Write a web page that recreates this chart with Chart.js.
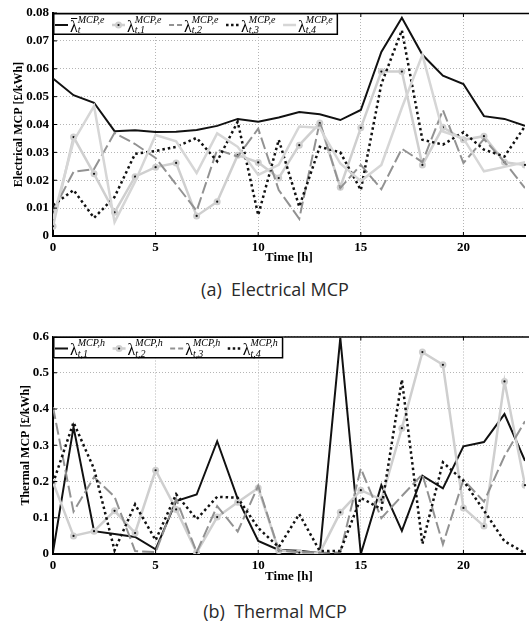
<!DOCTYPE html>
<html>
<head>
<meta charset="utf-8">
<script src="https://cdn.jsdelivr.net/npm/chart.js@4.4.0/dist/chart.umd.min.js"></script>
<style>
  body { margin: 0; background: #fff; width: 529px; height: 625px; position: relative; overflow: hidden; }
  canvas { position: absolute; left: 0; }
  #elec { top: 0; }
  #therm { top: 324px; }
  .cap { position: absolute; left: 0; width: 550px; text-align: center; font-family: "Open Sans"; font-size: 18px; color: #2a2a2a; white-space: pre; }
</style>
</head>
<body>
<canvas id="elec" width="529" height="265"></canvas>
<div class="cap" style="top:277px">(a)  Electrical MCP</div>
<canvas id="therm" width="529" height="260"></canvas>
<div class="cap" style="top:599px">(b)  Thermal MCP</div>
<script>
// godziny i etykiety osi
const hours = [0,1,2,3,4,5,6,7,8,9,10,11,12,13,14,15,16,17,18,19,20,21,22,23];
const xTicks = [0, 5, 10, 15, 20];
const elecTicks = [0, 0.01, 0.02, 0.03, 0.04, 0.05, 0.06, 0.07, 0.08];
const thermTicks = [0, 0.1, 0.2, 0.3, 0.4, 0.5, 0.6];

// (a) electrical MCP
const elecMean = [0.0565,0.0505,0.0478,0.0376,0.0379,0.0373,0.0374,0.0380,0.0395,0.0420,0.0410,0.0425,0.0445,0.0437,0.0416,0.0452,0.0660,0.0783,0.0650,0.0575,0.0545,0.0430,0.0420,0.0395];
const elec1 = [0.0035,0.0355,0.0223,0.0085,0.0213,0.0247,0.0262,0.0072,0.0123,0.0290,0.0264,0.0208,0.0326,0.0405,0.0175,0.0388,0.0590,0.0590,0.0255,0.0390,0.0345,0.0358,0.0265,0.0255];
const elec2 = [0.0090,0.0230,0.0240,0.0370,0.0330,0.0280,0.0185,0.0090,0.0310,0.0285,0.0385,0.0165,0.0062,0.0410,0.0172,0.0255,0.0168,0.0313,0.0265,0.0452,0.0262,0.0348,0.0265,0.0172];
const elec3 = [0.0110,0.0165,0.0065,0.0140,0.0295,0.0305,0.0320,0.0352,0.0268,0.0410,0.0075,0.0345,0.0105,0.0320,0.0300,0.0165,0.0545,0.0738,0.0345,0.0328,0.0372,0.0310,0.0285,0.0394];
const elec4 = [0.0060,0.0340,0.0466,0.0050,0.0195,0.0362,0.0340,0.0226,0.0368,0.0320,0.0219,0.0255,0.0393,0.0388,0.0260,0.0197,0.0255,0.0460,0.0650,0.0375,0.0350,0.0232,0.0248,0.0265];

// (b) thermal MCP
const therm1 = [0.005,0.350,0.063,0.055,0.047,0.013,0.146,0.164,0.311,0.152,0.036,0.011,0.009,0.003,0.596,0.000,0.190,0.064,0.216,0.181,0.297,0.309,0.386,0.257];
const therm2 = [0.198,0.050,0.063,0.119,0.058,0.231,0.123,0.004,0.102,0.143,0.182,0.010,0.004,0.003,0.115,0.176,0.150,0.347,0.557,0.522,0.127,0.077,0.476,0.190];
const therm3 = [0.405,0.117,0.212,0.158,0.008,0.005,0.152,0.005,0.132,0.062,0.188,0.010,0.005,0.003,0.005,0.236,0.099,0.160,0.220,0.027,0.205,0.144,0.270,0.366];
const therm4 = [0.195,0.363,0.235,0.010,0.137,0.038,0.165,0.096,0.158,0.155,0.072,0.019,0.110,0.008,0.008,0.155,0.124,0.481,0.028,0.253,0.202,0.120,0.035,0.003];

const SERIF = '"Liberation Serif", "DejaVu Serif", serif';

// style linii (jak w matlabie)
const stBlack = { color: '#111', width: 2 };
const stMarked = { color: '#cfcfcf', width: 2.5, marker: true };
const stDashed = { color: '#929292', width: 2, dash: [12, 4], legendDash: [5, 3] };
const stDotted = { color: '#111', width: 2.5, dash: [2.5, 3], legendDash: [2.5, 2.5] };
const stLight = { color: '#d6d6d6', width: 2.5 };

function toPoints(vals) {
    return hours.map((h, i) => ({ x: h, y: vals[i] }));
}

function makeDataset(vals, st, idx) {
    return {
        data: toPoints(vals),
        borderColor: st.color,
        borderWidth: st.width,
        borderDash: st.dash || [],
        borderCapStyle: 'butt',
        borderJoinStyle: 'miter',
        tension: 0,
        fill: false,
        pointRadius: st.marker ? 3.5 : 0,
        pointBackgroundColor: st.color,
        pointBorderColor: st.color,
        pointBorderWidth: 0,
        dotMarkers: !!st.marker,
        order: -idx
    };
}

const decoPlugin = {
    id: 'mcpDeco',
    afterDatasetDraw(chart, args) {
        const ds = chart.data.datasets[args.index];
        if (!ds.dotMarkers) return;
        const ctx = chart.ctx;
        ctx.save();
        ctx.fillStyle = '#111';
        args.meta.data.forEach(p => {
            ctx.beginPath();
            ctx.arc(p.x, p.y, 1.1, 0, Math.PI * 2);
            ctx.fill();
        });
        ctx.restore();
    },
    afterDraw(chart, args, opts) {
        const ctx = chart.ctx;
        const a = chart.chartArea;
        const xs = chart.scales.x, ys = chart.scales.y;
        ctx.save();
        // gorna ramka
        ctx.strokeStyle = '#000';
        ctx.lineWidth = 1.5;
        ctx.beginPath();
        ctx.moveTo(a.left, a.top + 0.5);
        ctx.lineTo(chart.width, a.top + 0.5);
        ctx.stroke();
        // ticki do srodka
        ctx.lineWidth = 1;
        xTicks.forEach(v => {
            const px = xs.getPixelForValue(v);
            ctx.beginPath();
            ctx.moveTo(px, a.top); ctx.lineTo(px, a.top + 4);
            ctx.moveTo(px, a.bottom); ctx.lineTo(px, a.bottom - 4);
            ctx.stroke();
        });
        opts.yTicks.forEach(v => {
            const py = ys.getPixelForValue(v);
            ctx.beginPath();
            ctx.moveTo(a.left, py); ctx.lineTo(a.left + 4, py);
            ctx.stroke();
        });
        drawLegend(ctx, a, opts.items);
        ctx.restore();
    }
};

function drawLegend(ctx, a, items) {
    const x0 = a.left, y0 = a.top, h = 22;
    let x = x0 + 2;
    const laid = items.map(it => {
        ctx.font = '16px ' + SERIF;
        const bw = ctx.measureText(it.base).width;
        ctx.font = 'italic 10px ' + SERIF;
        const sw = Math.max(ctx.measureText(it.sup).width, ctx.measureText(it.sub).width);
        const p = { it, x, bw };
        x += 13 + 2 + bw + sw + 7.5;
        return p;
    });
    const w = x - x0 - 2;
    ctx.fillStyle = '#fff';
    ctx.fillRect(x0, y0, w, h);
    ctx.strokeStyle = '#000';
    ctx.lineWidth = 1.5;
    ctx.setLineDash([]);
    ctx.strokeRect(x0 + 0.75, y0 + 0.75, w - 1.5, h - 1.5);

    laid.forEach(({ it, x, bw }) => {
        const st = it.style;
        const ly = y0 + 12;
        ctx.save();
        ctx.strokeStyle = st.color;
        ctx.lineWidth = st.width;
        ctx.setLineDash(st.legendDash || []);
        ctx.beginPath();
        ctx.moveTo(x, ly); ctx.lineTo(x + 13, ly);
        ctx.stroke();
        ctx.restore();
        if (st.marker) {
            ctx.fillStyle = st.color;
            ctx.beginPath(); ctx.arc(x + 6.5, ly, 3.5, 0, Math.PI * 2); ctx.fill();
            ctx.fillStyle = '#111';
            ctx.beginPath(); ctx.arc(x + 6.5, ly, 1.1, 0, Math.PI * 2); ctx.fill();
        }
        const tx = x + 15;
        ctx.fillStyle = '#000';
        ctx.textBaseline = 'alphabetic';
        ctx.textAlign = 'left';
        ctx.font = '16px ' + SERIF;
        ctx.fillText(it.base, tx, y0 + 18.5);
        if (it.bar) {
            ctx.strokeStyle = '#000';
            ctx.lineWidth = 1;
            ctx.beginPath();
            ctx.moveTo(tx + 1, y0 + 5.5); ctx.lineTo(tx + bw - 0.5, y0 + 5.5);
            ctx.stroke();
        }
        ctx.font = 'italic 10px ' + SERIF;
        ctx.fillText(it.sup, tx + bw, y0 + 9.5);
        ctx.fillText(it.sub, tx + bw, y0 + 20);
    });
}

function makeChart(id, series, yTicks, yMax, decimals, yTitle, padTop, xAxisH, yTitlePad, items) {
    return new Chart(document.getElementById(id), {
        type: 'line',
        data: { datasets: series.map((s, i) => makeDataset(s.vals, s.style, i)) },
        plugins: [decoPlugin],
        options: {
            responsive: false,
            animation: false,
            devicePixelRatio: 1,
            layout: { padding: { top: padTop, right: 2, left: 0, bottom: 0 } },
            plugins: {
                legend: { display: false },
                tooltip: { enabled: false },
                mcpDeco: { items: items, yTicks: yTicks }
            },
            scales: {
                x: {
                    type: 'linear', min: 0, max: 23,
                    afterBuildTicks: s => { s.ticks = xTicks.map(v => ({ value: v })); },
                    afterFit: s => { s.height = xAxisH; },
                    grid: { color: '#b5b5b5', lineWidth: 1, drawTicks: false },
                    border: { color: '#000', width: 2, dash: [1, 2] },
                    ticks: { padding: 4, color: '#000', font: { family: SERIF, size: 13, weight: 'bold' } },
                    title: { display: true, text: 'Time [h]', color: '#000', padding: { top: 0, bottom: 0 },
                             font: { family: SERIF, size: 13, weight: 'bold' } }
                },
                y: {
                    min: 0, max: yMax,
                    afterBuildTicks: s => { s.ticks = yTicks.map(v => ({ value: v })); },
                    afterFit: s => { s.width = 53; },
                    grid: { color: '#b5b5b5', lineWidth: 1, drawTicks: false },
                    border: { color: '#000', width: 2, dash: [1, 2] },
                    ticks: { padding: 4, color: '#000', font: { family: SERIF, size: 13, weight: 'bold' },
                             callback: v => v === 0 ? '0' : v.toFixed(decimals) },
                    title: { display: true, text: yTitle, color: '#000', padding: { top: yTitlePad, bottom: 0 },
                             font: { family: SERIF, size: 12, weight: 'bold' } }
                }
            }
        }
    });
}

makeChart('elec', [
    { vals: elecMean, style: stBlack },
    { vals: elec1, style: stMarked },
    { vals: elec2, style: stDashed },
    { vals: elec3, style: stDotted },
    { vals: elec4, style: stLight }
], elecTicks, 0.08, 2, 'Electrical MCP [£/kWh]', 13, 29, 12, [
    { style: stBlack, base: '\u03BB', bar: true, sup: 'MCP,e', sub: 't' },
    { style: stMarked, base: '\u03BB', sup: 'MCP,e', sub: 't,1' },
    { style: stDashed, base: '\u03BB', sup: 'MCP,e', sub: 't,2' },
    { style: stDotted, base: '\u03BB', sup: 'MCP,e', sub: 't,3' },
    { style: stLight, base: '\u03BB', sup: 'MCP,e', sub: 't,4' }
]);

makeChart('therm', [
    { vals: therm1, style: stBlack },
    { vals: therm2, style: stMarked },
    { vals: therm3, style: stDashed },
    { vals: therm4, style: stDotted }
], thermTicks, 0.6, 1, 'Thermal MCP [£/kWh]', 12.5, 30, 19, [
    { style: stBlack, base: '\u03BB', sup: 'MCP,h', sub: 't,1' },
    { style: stMarked, base: '\u03BB', sup: 'MCP,h', sub: 't,2' },
    { style: stDashed, base: '\u03BB', sup: 'MCP,h', sub: 't,3' },
    { style: stDotted, base: '\u03BB', sup: 'MCP,h', sub: 't,4' }
]);
</script>
</body>
</html>
